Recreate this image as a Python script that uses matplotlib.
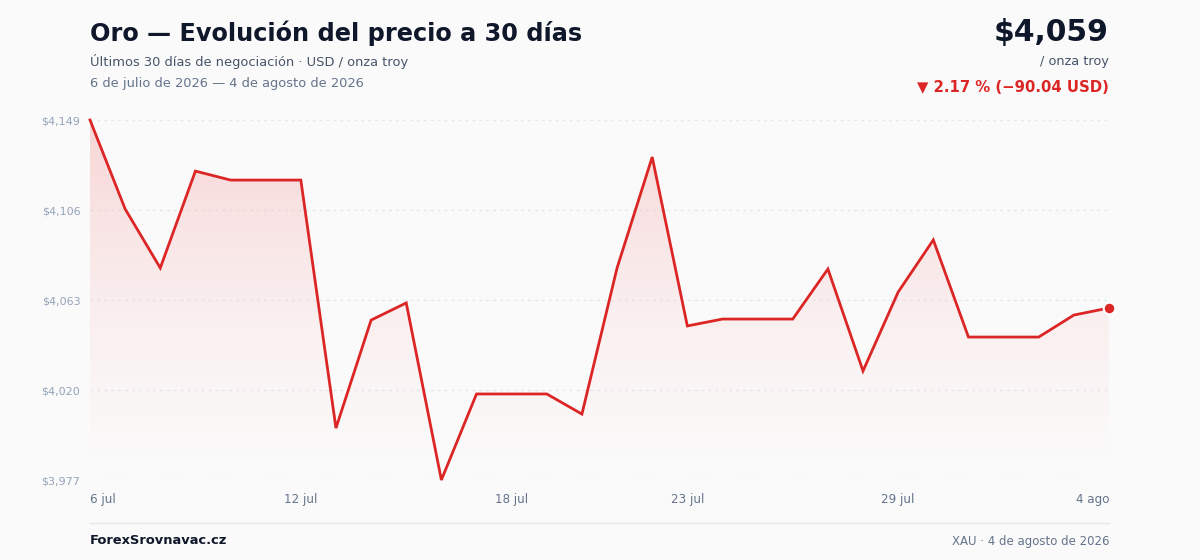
import matplotlib
matplotlib.use("Agg")
import matplotlib.pyplot as plt
import numpy as np
from matplotlib.patches import Polygon
from matplotlib.colors import LinearSegmentedColormap

# ---- data ----
prices = [4149.0, 4106.5, 4078.3, 4124.6, 4120.3, 4120.3, 4120.3, 4001.8, 4053.4, 4061.6,
          3977.0, 4018.1, 4018.1, 4018.1, 4008.5, 4078.3, 4131.3, 4050.6, 4053.9, 4053.9,
          4053.9, 4077.8, 4029.1, 4066.8, 4091.7, 4045.3, 4045.3, 4045.3, 4055.8, 4059.2]
tick_idx = [0, 6, 12, 17, 23, 29]
tick_labels = ["6 jul", "12 jul", "18 jul", "23 jul", "29 jul", "4 ago"]
y_tick_vals = [3977, 4020, 4063, 4106, 4149]
y_tick_labels = ["$3,977", "$4,020", "$4,063", "$4,106", "$4,149"]

title = "Oro — Evolución del precio a 30 días"
subtitle = "Últimos 30 días de negociación · USD / onza troy"
date_range = "6 de julio de 2026 — 4 de agosto de 2026"
price_txt = "$4,059"
unit_txt = "/ onza troy"
change_txt = "▼ 2.17 % (−90.04 USD)"
footer_left = "ForexSrovnavac.cz"
footer_right = "XAU · 4 de agosto de 2026"

RED = "#dc2626"
BG = "#fafafa"

plt.rcParams['font.family'] = ['DejaVu Sans']

fig = plt.figure(figsize=(12, 5.6), dpi=100, facecolor=BG)
ax = fig.add_axes([0.075, 1 - 480 / 560, (1109 - 90) / 1200, 360 / 560])
ax.set_facecolor(BG)

x = np.arange(len(prices))
ymin, ymax = 3977, 4149
ax.set_xlim(0, len(prices) - 1)
ax.set_ylim(ymin, ymax)

# gradient fill
fill_bottom = 3989
cmap = LinearSegmentedColormap.from_list("g", [(1, 0.85, 0.85, 0.03), (0.96, 0.68, 0.68, 0.48)])
grad = np.linspace(0, 1, 256).reshape(-1, 1)
im = ax.imshow(grad, extent=[0, len(prices) - 1, fill_bottom, ymax], origin="lower",
               aspect="auto", cmap=cmap, zorder=1, interpolation="bicubic")
verts = list(zip(x, prices)) + [(len(prices) - 1, ymin), (0, ymin)]
poly = Polygon(verts, closed=True, transform=ax.transData, facecolor="none", edgecolor="none")
ax.add_patch(poly)
im.set_clip_path(poly)

for v in y_tick_vals:
    ax.axhline(v, color="#e2e8f0", lw=1, ls=(0, (2, 3)), zorder=0.5)

ax.plot(x, prices, color=RED, lw=2, zorder=3, clip_on=False, solid_joinstyle="miter")
ax.scatter([x[-1]], [prices[-1]], s=70, color=RED, edgecolor="white", linewidth=1.5, zorder=4, clip_on=False)

for s in ax.spines.values():
    s.set_visible(False)
ax.set_yticks(y_tick_vals)
ax.set_yticklabels(y_tick_labels, fontsize=8, color="#94a3b8")
ax.set_xticks(tick_idx)
ax.set_xticklabels(tick_labels, fontsize=8.6, color="#64748b")
ax.tick_params(length=0)
ax.tick_params(axis="x", pad=9)
ax.tick_params(axis="y", pad=7)
xl = ax.get_xticklabels()
xl[0].set_ha("left")
xl[-1].set_ha("right")

# header
fig.text(90 / 1200, 1 - 33 / 560, title, fontsize=17.3, fontweight="bold", color="#0f172a", va="center", ha="left")
fig.text(90 / 1200, 1 - 61 / 560, subtitle, fontsize=9.4, color="#475569", va="center", ha="left")
fig.text(90 / 1200, 1 - 83 / 560, date_range, fontsize=9.4, color="#64748b", va="center", ha="left")

fig.text(1109 / 1200, 1 - 32 / 560, price_txt, fontsize=21.5, fontweight="bold", color="#0f172a", va="center", ha="right")
fig.text(1109 / 1200, 1 - 61 / 560, unit_txt, fontsize=9.3, color="#475569", va="center", ha="right")
fig.text(1109 / 1200, 1 - 87 / 560, change_txt, fontsize=10.7, fontweight="bold", color=RED, va="center", ha="right")

# footer
fig.add_artist(plt.Line2D([90 / 1200, 1109 / 1200], [1 - 523 / 560, 1 - 523 / 560], color="#e5e7eb", lw=1))
fig.text(90 / 1200, 1 - 541 / 560, footer_left, fontsize=9.4, fontweight="bold", color="#0f172a", va="center", ha="left")
fig.text(1109 / 1200, 1 - 541 / 560, footer_right, fontsize=8.5, color="#64748b", va="center", ha="right")

fig.savefig("out.png", dpi=100, facecolor=BG)
